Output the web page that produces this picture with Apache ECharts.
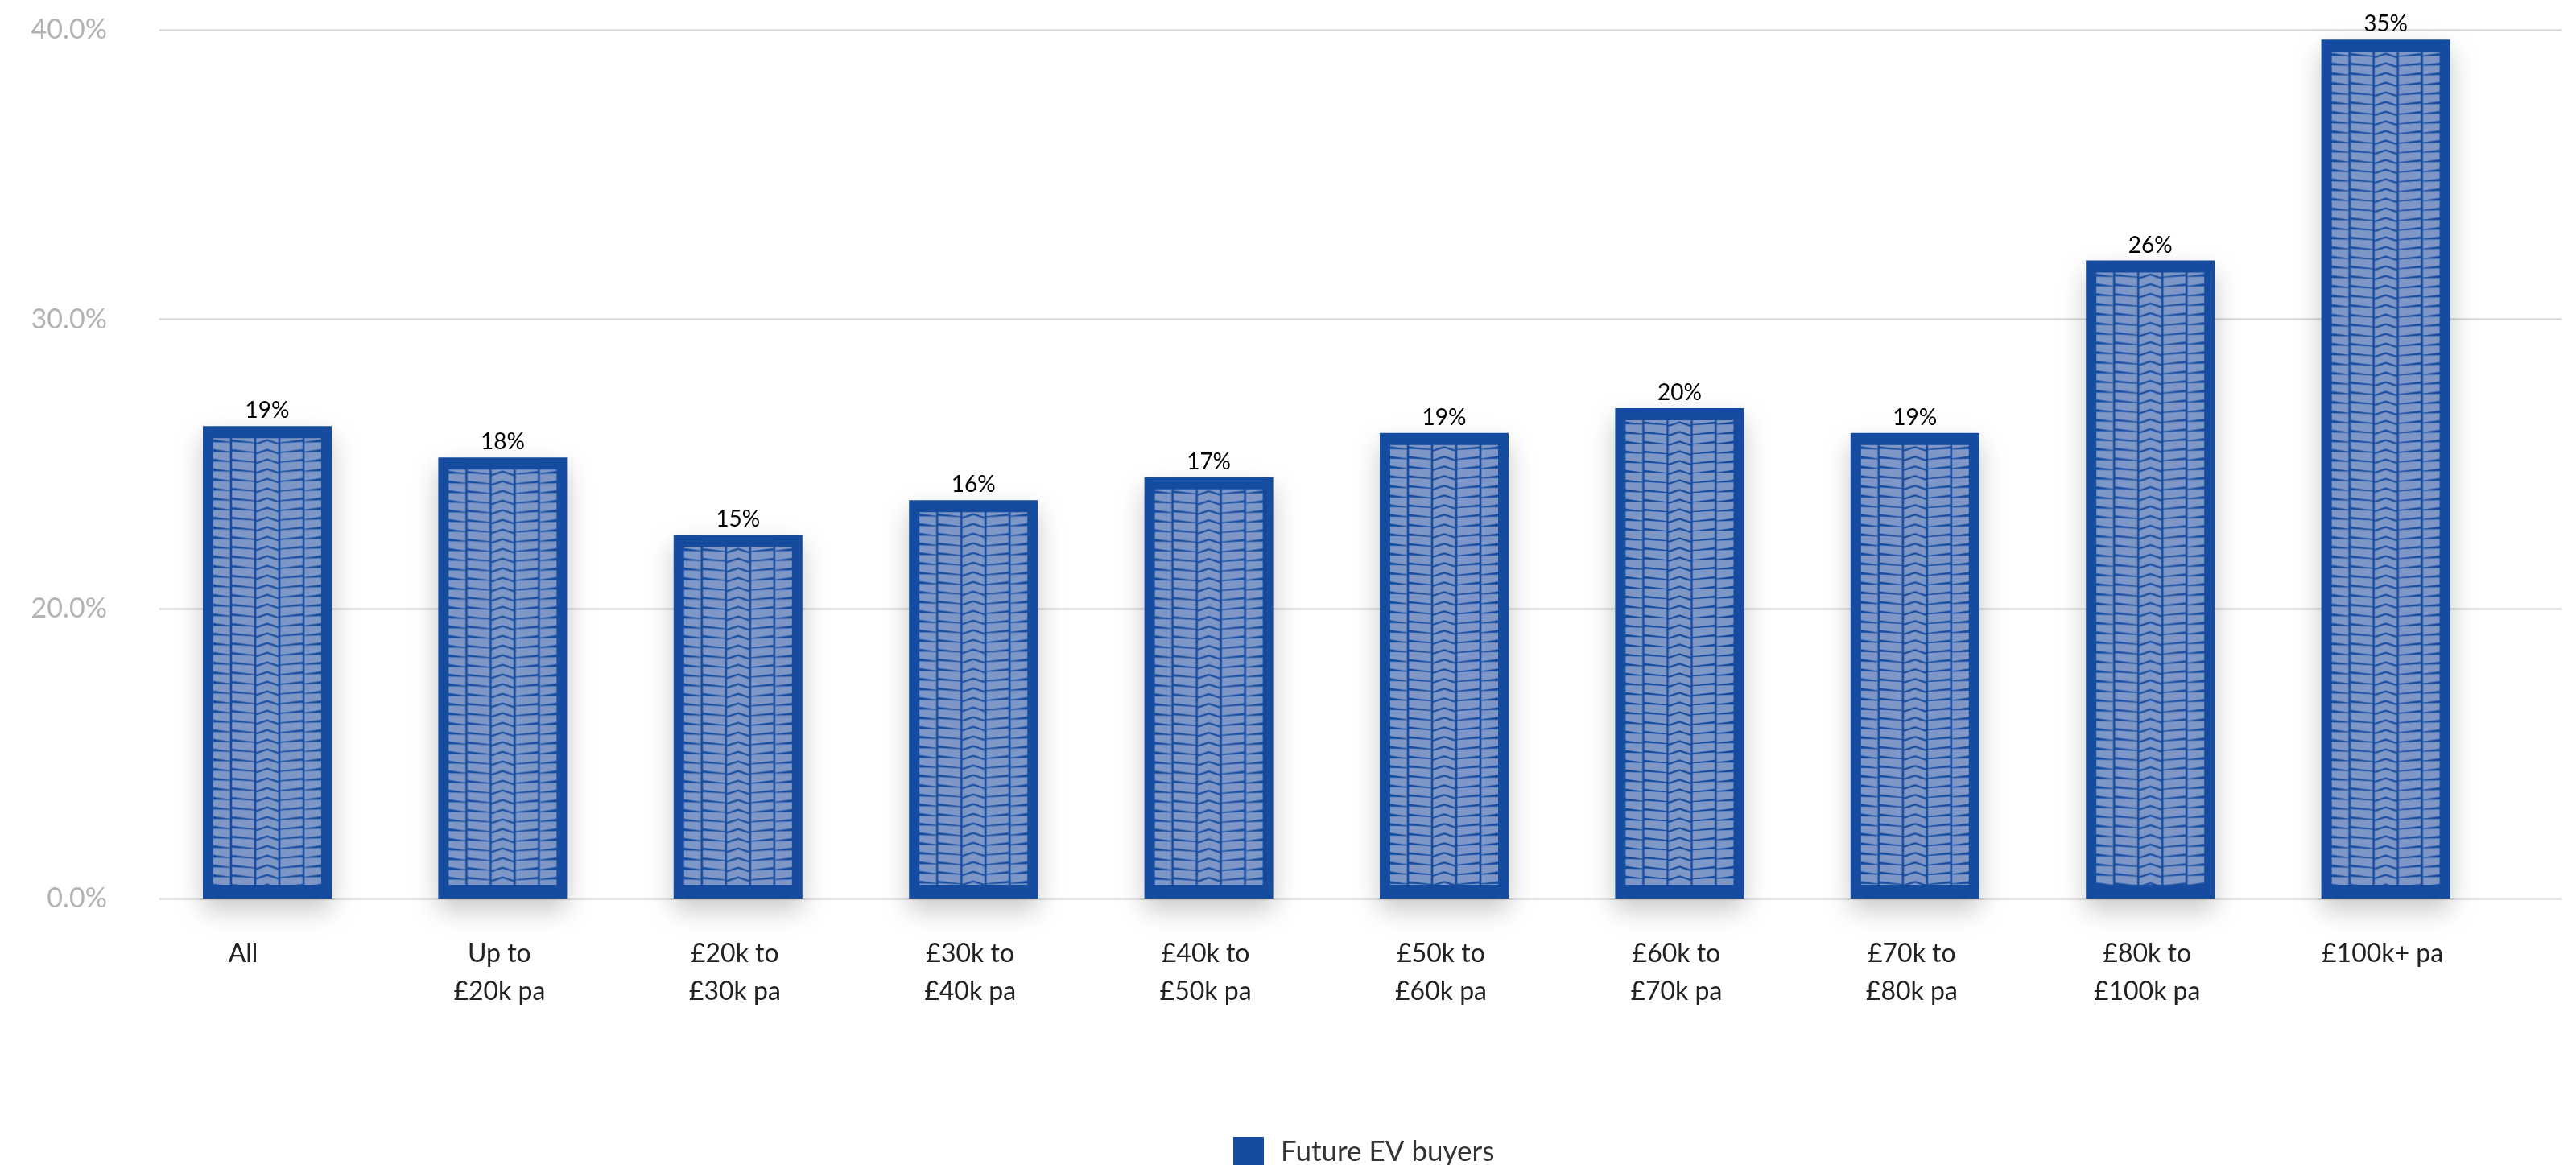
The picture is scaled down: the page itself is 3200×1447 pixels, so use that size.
<!DOCTYPE html>
<html><head><meta charset="utf-8">
<script src="https://cdn.jsdelivr.net/npm/echarts@6/dist/echarts.min.js"></script>
<style>html,body{margin:0;padding:0;background:#fff}#main{width:3200px;height:1447px}</style>
</head><body><div id="main"></div>
<script>
const categories = ['All','Up to\n£20k pa','£20k to\n£30k pa','£30k to\n£40k pa','£40k to\n£50k pa','£50k to\n£60k pa','£60k to\n£70k pa','£70k to\n£80k pa','£80k to\n£100k pa','£100k+ pa'];
const futureEvBuyers = [19.25, 17.97, 14.82, 16.23, 17.17, 18.97, 19.98, 18.97, 26.0, 35.0];
const yTickLabels = ['0.0%', '20.0%', '30.0%', '40.0%'];
const seriesName = 'Future EV buyers';
const AXIS_STEP = 11.8;

const BAR_COLOR = '#164ca0';
const TREAD_LIGHT = '#7e97c6';
const BAR_W = 160, INSET_X = 13, INSET_TOP = 15, INSET_BOTTOM = 17;
const FONT = 'Lato';

// tyre tread tile
const tile = document.createElement('canvas');
const TW = BAR_W - 2 * INSET_X, TH = 12;
tile.width = TW; tile.height = TH;
(function () {
  const c = tile.getContext('2d');
  c.fillStyle = TREAD_LIGHT; c.fillRect(0, 0, TW, TH);
  c.fillStyle = BAR_COLOR; c.strokeStyle = BAR_COLOR;
  const seps = [22, 52, 82, 112];
  seps.forEach(x => c.fillRect(x - 1.3, 0, 2.6, TH));
  c.lineWidth = 2.2; c.beginPath();
  c.moveTo(53, 7); c.lineTo(67, 2.5); c.lineTo(81, 7); c.stroke();
  function poly(pts) { c.beginPath(); c.moveTo(pts[0][0], pts[0][1]); for (let k = 1; k < pts.length; k++) c.lineTo(pts[k][0], pts[k][1]); c.closePath(); c.fill(); }
  poly([[22, 1.5], [52, 5.2], [52, 6.2], [22, 4.5]]);
  poly([[112, 1.5], [82, 5.2], [82, 6.2], [112, 4.5]]);
  poly([[0, 1.5], [22, 4.8], [22, 5.6], [0, 5]]);
  poly([[TW, 1.5], [112, 4.8], [112, 5.6], [TW, 5]]);
})();

function renderItem(params, api) {
  const i = api.value(0), v = api.value(1);
  const topPt = api.coord([i, v]);
  const basePt = api.coord([i, 0]);
  const x0 = topPt[0] - BAR_W / 2, y0 = topPt[1], h = basePt[1] - topPt[1];
  const ix = x0 + INSET_X, iy = y0 + INSET_TOP, iw = BAR_W - 2 * INSET_X, ih = h - INSET_TOP - INSET_BOTTOM;
  return {
    type: 'group',
    children: [
      { type: 'rect', shape: { x: x0, y: y0, width: BAR_W, height: h },
        style: { fill: BAR_COLOR, shadowBlur: 30, shadowOffsetY: 14, shadowColor: 'rgba(0,0,0,0.22)' } },
      { type: 'rect', shape: { x: ix, y: iy, width: iw, height: ih },
        style: { fill: { image: tile, repeat: 'repeat', x: ix, y: iy } } },
      { type: 'text', x: topPt[0], y: y0 - 5,
        style: { text: Math.round(v) + '%', fill: '#000', fontSize: 28, fontFamily: FONT,
                 align: 'center', verticalAlign: 'bottom' } }
    ]
  };
}

const chart = echarts.init(document.getElementById('main'), null, { renderer: 'canvas' });
chart.setOption({
  animation: false,
  backgroundColor: '#fff',
  grid: [
    { left: 198, right: 18, top: 37, bottom: 331 },
    { left: 185.8, right: 90.2, top: 37, bottom: 331 }
  ],
  xAxis: [
    { gridIndex: 0, type: 'value', show: false, min: 0, max: 1 },
    { gridIndex: 1, type: 'category', data: categories.map((c, k) => k === 0 ? { value: c, textStyle: { padding: [0, 60, 0, 0] } } : c),
      axisLine: { show: false }, axisTick: { show: false },
      axisLabel: { interval: 0, margin: 45, fontSize: 32, lineHeight: 47, color: '#222', fontFamily: FONT, padding: [0, 8, 0, 0] } }
  ],
  yAxis: [
    { gridIndex: 0, type: 'value', min: 0, max: 35.4, interval: AXIS_STEP,
      axisLine: { show: false }, axisTick: { show: false },
      axisLabel: { margin: 65, fontSize: 34, color: '#b3b3b3', fontFamily: FONT,
        formatter: v => yTickLabels[Math.round(v / AXIS_STEP)] },
      splitLine: { lineStyle: { color: '#d9d9d9', width: 2.5 } } },
    { gridIndex: 1, type: 'value', min: 0, max: 35.4, interval: AXIS_STEP, show: false, splitLine: { show: false } }
  ],
  legend: {
    data: [seriesName], left: 1527, top: 1407, icon: 'rect', itemWidth: 38, itemHeight: 38,
    textStyle: { fontSize: 35, color: '#333', fontFamily: FONT, padding: [0, 0, 0, 16] }
  },
  series: [{
    name: seriesName, type: 'custom', xAxisIndex: 1, yAxisIndex: 1,
    itemStyle: { color: BAR_COLOR },
    data: futureEvBuyers.map((v, k) => [k, v]),
    encode: { x: 0, y: 1 },
    renderItem: renderItem
  }]
});
</script></body></html>
